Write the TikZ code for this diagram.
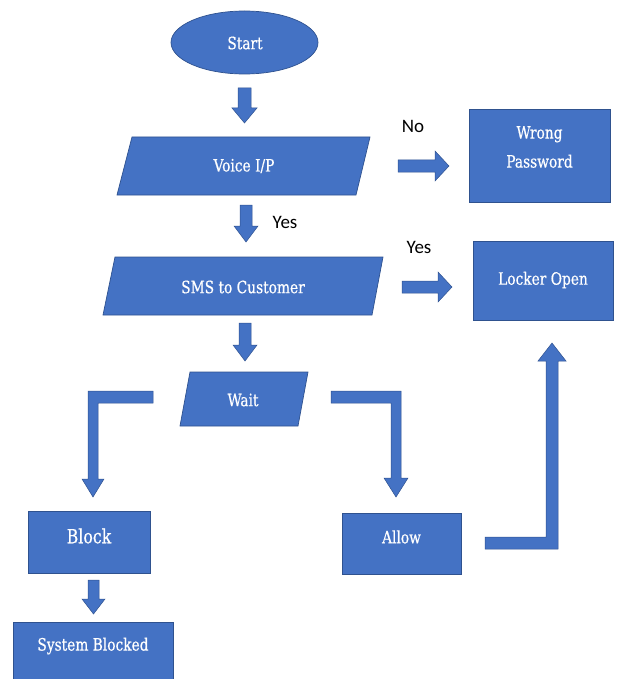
\documentclass[tikz,border=0pt]{standalone}
\usepackage{fontspec}
\usetikzlibrary{shapes.geometric}
\setmainfont{DejaVu Serif Condensed}[FakeStretch=0.9,FakeBold=0.6]
\newfontfamily\labelfont{Carlito}
\definecolor{boxblue}{HTML}{4472C4}
\definecolor{boxedge}{HTML}{2F528F}
\begin{document}
\begin{tikzpicture}[x=1pt,y=-1pt,
  shapefill/.style={fill=boxblue,draw=boxedge,line width=0.7pt},
  boxtext/.style={text=white,font=\fontsize{17}{29}\selectfont,align=center,inner sep=0pt},
  yesno/.style={text=black,font=\labelfont\fontsize{19}{21}\selectfont,inner sep=0pt},
  blockarrow/.style={fill=boxblue,draw=boxedge,line width=0.5pt}]
\useasboundingbox (0,0) rectangle (616,679);
% Start
\node[shapefill,ellipse,minimum width=147pt,minimum height=63pt,inner sep=0pt] (start) at (244.5,42.5) {};
\node[boxtext] (starttxt) at (245,43) {Start};
% Voice I/P
\draw[shapefill] (132,137) -- (370,137) -- (356,195) -- (117,195) -- cycle;
\node[boxtext] (voice) at (244,166) {Voice I/P};
% Wrong Password
\node[shapefill,minimum width=141pt,minimum height=93pt,inner sep=0pt] (wrong) at (539.5,155.5) {};
\node[boxtext] (wrongtxt) at (539.5,147) {Wrong\\Password};
% SMS
\draw[shapefill] (115,257) -- (383,257) -- (372,315) -- (103,315) -- cycle;
\node[boxtext] (sms) at (243,287) {SMS to Customer};
% Locker Open
\node[shapefill,minimum width=140pt,minimum height=79pt,inner sep=0pt] (locker) at (543,280.5) {};
\node[boxtext] (lockertxt) at (543,280) {Locker Open};
% Wait
\draw[shapefill] (190,372) -- (308,372) -- (298,426) -- (180,426) -- cycle;
\node[boxtext] (wait) at (243,400) {Wait};
% Block
\node[shapefill,minimum width=122pt,minimum height=62pt,inner sep=0pt] (block) at (89,542) {};
\node[boxtext,font=\fontsize{19.5}{21}\selectfont] (blocktxt) at (89,536) {Block};
% Allow
\node[shapefill,minimum width=119pt,minimum height=61pt,inner sep=0pt] (allow) at (401.5,543.5) {};
\node[boxtext] (allowtxt) at (401.5,537) {Allow};
% System Blocked
\node[shapefill,minimum width=160pt,minimum height=70pt,inner sep=0pt] (sysb) at (93,657) {};
\node[boxtext] (sysbtxt) at (93,646) {System Blocked};
% labels
\node[yesno] (no) at (413,126) {No};
\node[yesno] (yes1) at (285,222) {Yes};
\node[yesno] (yes2) at (419,247) {Yes};
% block arrows
\draw[blockarrow] (238,88) -- (251,88) -- (251,108) -- (257,108) -- (244.5,123) -- (232,108) -- (238,108) -- cycle;
\draw[blockarrow] (240,205) -- (252,205) -- (252,226) -- (258,226) -- (246,242) -- (234,226) -- (240,226) -- cycle;
\draw[blockarrow] (239,323) -- (251,323) -- (251,345) -- (257,345) -- (245,361) -- (233,345) -- (239,345) -- cycle;
\draw[blockarrow] (398,160) -- (435,160) -- (435,151) -- (449,166) -- (435,181) -- (435,172) -- (398,172) -- cycle;
\draw[blockarrow] (402,281) -- (438,281) -- (438,272) -- (452,287) -- (438,302) -- (438,293) -- (402,293) -- cycle;
\draw[blockarrow] (153,391) -- (88,391) -- (88,479) -- (82,479) -- (93,497) -- (104,479) -- (98,479) -- (98,403) -- (153,403) -- cycle;
\draw[blockarrow] (331,391) -- (401,391) -- (401,478) -- (408,478) -- (396,497) -- (384,478) -- (391,478) -- (391,403) -- (331,403) -- cycle;
\draw[blockarrow] (485,537) -- (546,537) -- (546,361) -- (538,361) -- (552,343) -- (566,361) -- (558,361) -- (558,549) -- (485,549) -- cycle;
\draw[blockarrow] (88,580) -- (99,580) -- (99,599) -- (105,599) -- (93.5,614) -- (82,599) -- (88,599) -- cycle;
\end{tikzpicture}
\end{document}
